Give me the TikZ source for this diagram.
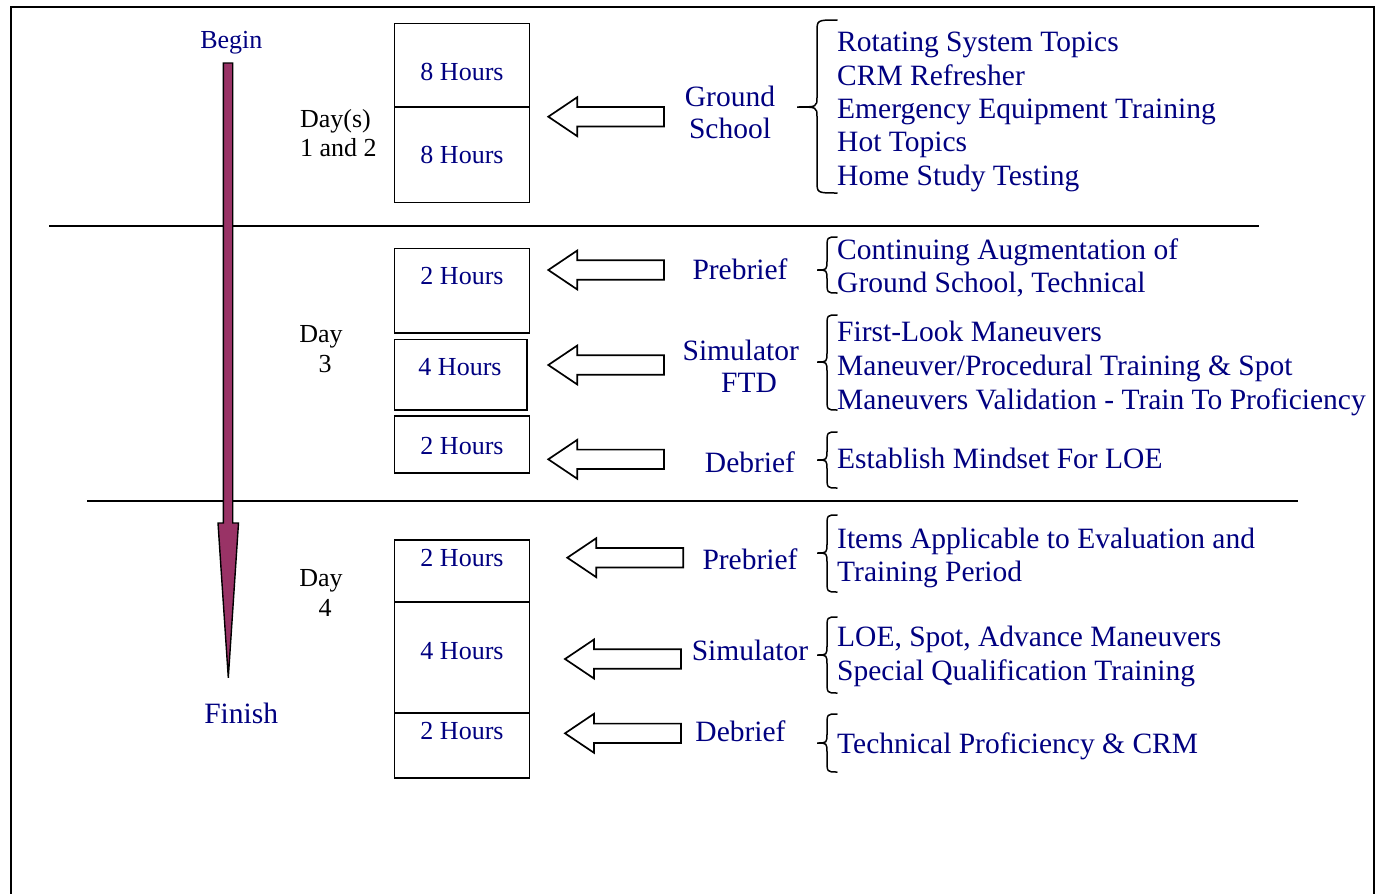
\documentclass[tikz,border=0pt]{standalone}
\usepackage{fontspec}
\setmainfont{Liberation Serif}
\definecolor{navy}{RGB}{0,0,128}
\definecolor{plum}{RGB}{153,51,102}
\newcommand\bigf{\fontsize{29.5}{33}\selectfont}
\newcommand\smf{\fontsize{26}{30}\selectfont}
% tipx, y, rightx
\newcommand\blockarrow[3]{%
  \draw[blk] (#1,#2) -- ({#1+29},{#2-19.5}) -- ({#1+29},{#2-9.7}) -- (#3,{#2-9.7})
    -- (#3,{#2+9.7}) -- ({#1+29},{#2+9.7}) -- ({#1+29},{#2+19.5}) -- cycle;}
% xtip, ytip, top, bottom, xv
\newcommand\curlybrace[5]{%
  \draw[brc] (837,#3) .. controls (#5,#3) .. (#5,{#3+12}) -- (#5,{#2-10})
    .. controls (#5,#2) .. (#1,#2) .. controls (#5,#2) .. (#5,{#2+10})
    -- (#5,{#4-12}) .. controls (#5,#4) .. (837,#4);}
\begin{document}
\begin{tikzpicture}[x=1pt,y=-1pt,
  big/.style={text=navy,font=\bigf,inner sep=0pt},
  sml/.style={font=\smf,inner sep=0pt,anchor=base},
  item/.style={big,anchor=base west},
  mid/.style={big,anchor=base},
  hrs/.style={sml,text=navy},
  daytxt/.style={sml,text=black},
  box/.style={draw,line width=1.9pt},
  blk/.style={draw,line width=1.7pt,fill=white,line join=miter},
  brc/.style={draw,line width=1.5pt,line cap=round},
  rule/.style={draw,line width=1.6pt}]
\useasboundingbox (0,0) rectangle (1384,894);
% frame and separators
\draw[line width=2.2pt] (11,896) -- (11,7) -- (1374,7) -- (1374,896);
\draw[rule] (49,226) -- (1259,226);
\draw[rule] (87,501) -- (1298,501);
% timeline arrow
\draw[line width=1.4pt,fill=plum,line join=miter] (223.3,63) -- (232.7,63) -- (232.7,523)
  -- (238.5,523) -- (228.3,677.7) -- (218,523) -- (223.3,523) -- cycle;
\node[hrs] (begin) at (231.3,48.3) {Begin};
\node[mid] (finish) at (241.2,723.3) {Finish};
% day labels
\node[daytxt] (d12a) at (335.5,127.7) {Day(s)};
\node[daytxt] (d12b) at (338.3,156.7) {1 and 2};
\node[daytxt] (d3a) at (321,342.5) {Day};
\node[daytxt] (d3b) at (325,372.5) {3};
\node[daytxt] (d4a) at (321,586.7) {Day};
\node[daytxt] (d4b) at (325,616.7) {4};
% boxes
\draw[box] (394.5,23.5) rectangle (529.5,202.5);
\draw[box] (394.5,106.7) -- (529.5,106.7);
\draw[box] (394.5,248.5) rectangle (529.5,332.7);
\draw[box] (394.5,339.5) rectangle (526.7,410);
\draw[box] (394.5,416) rectangle (529.5,473.3);
\draw[box] (394.5,540) rectangle (529.5,778.3);
\draw[box] (394.5,602.3) -- (529.5,602.3);
\draw[box] (394.5,712.7) -- (529.5,712.7);
\node[hrs] (h1) at (462,80) {8 Hours};
\node[hrs] (h2) at (462,163.3) {8 Hours};
\node[hrs] (h3) at (462,284) {2 Hours};
\node[hrs] (h4) at (460,375) {4 Hours};
\node[hrs] (h5) at (462,454) {2 Hours};
\node[hrs] (h6) at (462,566) {2 Hours};
\node[hrs] (h7) at (462,659) {4 Hours};
\node[hrs] (h8) at (462,739) {2 Hours};
% block arrows
\blockarrow{548.3}{116.7}{664}
\blockarrow{548.3}{270}{664}
\blockarrow{548.3}{365}{664}
\blockarrow{548.3}{459.3}{664}
\blockarrow{567.3}{557.7}{683.3}
\blockarrow{565}{659}{681}
\blockarrow{565}{733.3}{681}
% middle labels
\node[mid] (gs1) at (730,106.5) {Ground};
\node[mid] (gs2) at (730,138.5) {School};
\node[mid] (pb3) at (740,279.3) {Prebrief};
\node[mid] (sm3) at (740.8,360) {Simulator};
\node[mid] (ftd) at (749,392.3) {FTD};
\node[mid] (db3) at (750,472.7) {Debrief};
\node[mid] (pb4) at (750,569) {Prebrief};
\node[mid] (sm4) at (750,660) {Simulator};
\node[mid] (db4) at (740.5,741.7) {Debrief};
% braces
\curlybrace{797}{107}{20}{193}{817}
\curlybrace{817}{270}{237}{293}{827}
\curlybrace{817}{362}{315}{410}{827}
\curlybrace{817}{460}{432}{488}{827}
\curlybrace{817}{553}{515}{592}{827}
\curlybrace{817}{655}{617}{693}{827}
\curlybrace{817}{743}{714}{772}{827}
% item texts
\node[item] (g1a) at (837,51.7) {Rotating System Topics};
\node[item] (g1b) at (837,85) {CRM Refresher};
\node[item] (g1c) at (837,118.3) {Emergency Equipment Training};
\node[item] (g1d) at (837,151.7) {Hot Topics};
\node[item] (g1e) at (837,185) {Home Study Testing};
\node[item] (p3a) at (837,259) {Continuing Augmentation of};
\node[item] (p3b) at (837,292.5) {Ground School, Technical};
\node[item] (s3a) at (837,341) {First-Look Maneuvers};
\node[item] (s3b) at (837,375) {Maneuver/Procedural Training \& Spot};
\node[item] (s3c) at (837,409) {Maneuvers Validation - Train To Proficiency};
\node[item] (e3a) at (837,468.5) {Establish Mindset For LOE};
\node[item] (p4a) at (837,548.3) {Items Applicable to Evaluation and};
\node[item] (p4b) at (837,581.7) {Training Period};
\node[item] (s4a) at (837,646.7) {LOE, Spot, Advance Maneuvers};
\node[item] (s4b) at (837,680) {Special Qualification Training};
\node[item] (t4a) at (837,753.3) {Technical Proficiency \& CRM};
\end{tikzpicture}
\end{document}
